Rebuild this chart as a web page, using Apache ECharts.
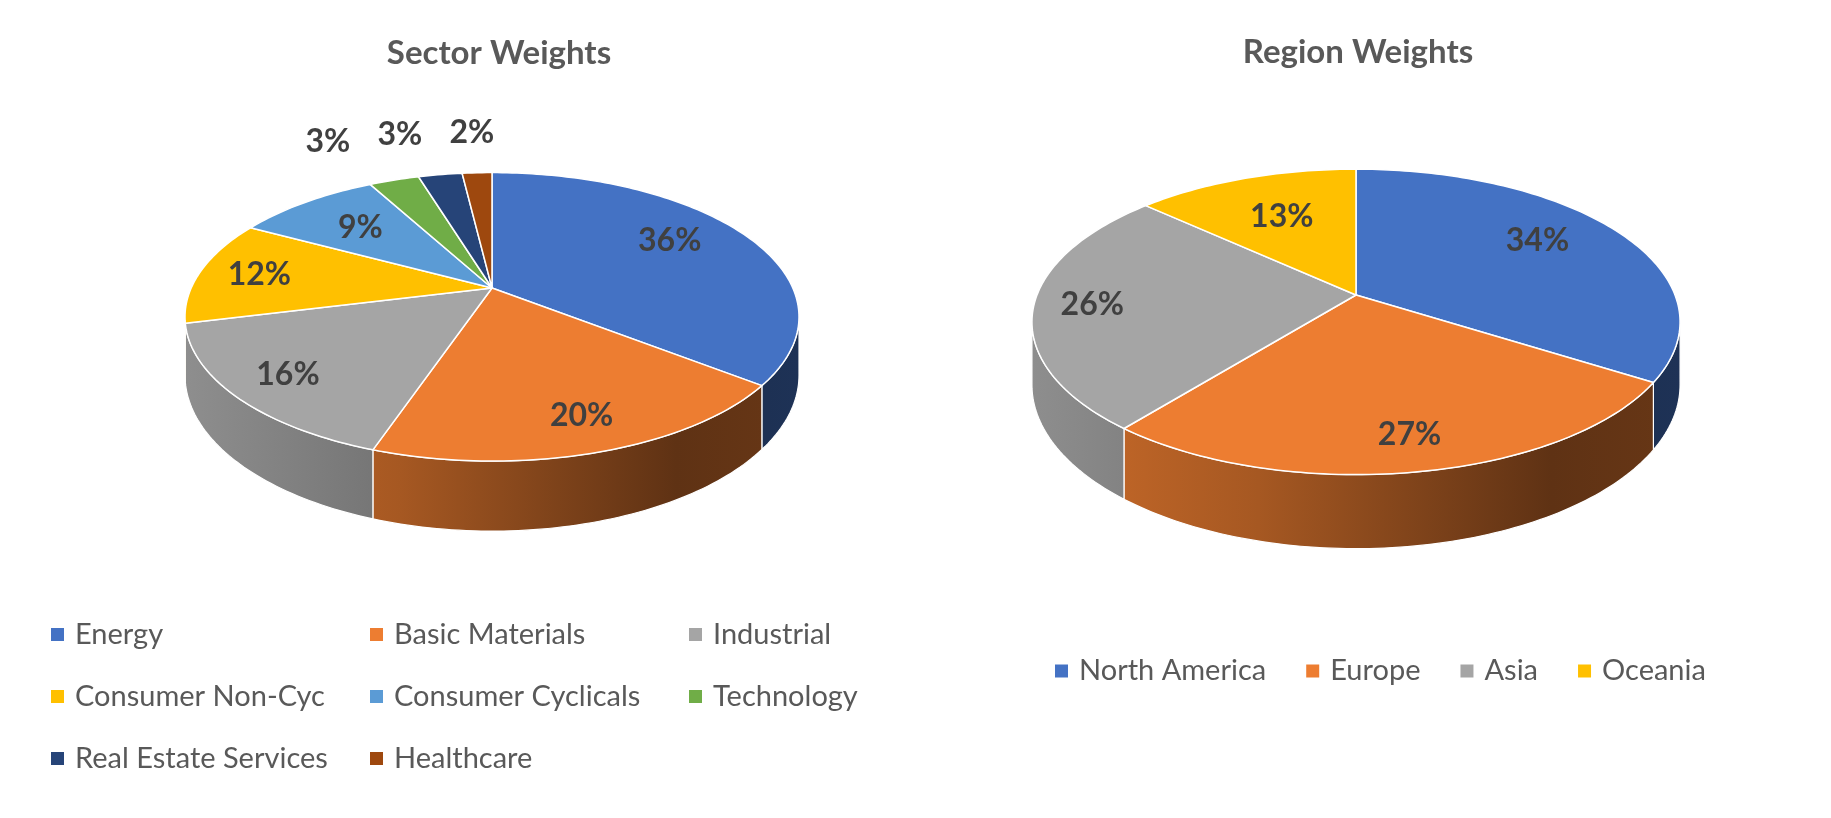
<!DOCTYPE html>
<html>
<head>
<meta charset="utf-8">
<title>Sector and Region Weights</title>
<script src="https://cdn.jsdelivr.net/npm/echarts@6/dist/echarts.min.js"></script>
<style>
	html, body { margin: 0; padding: 0; background: #fff; }
	#chart { width: 1831px; height: 818px; }
</style>
</head>
<body>
<div id="chart"></div>
<script>
// data (percent of portfolio)
var sectorNames = ['Energy', 'Basic Materials', 'Industrial', 'Consumer Non-Cyc', 'Consumer Cyclicals', 'Technology', 'Real Estate Services', 'Healthcare'];
var sectorValues = [35.6, 19.6, 15.9, 11.8, 9.2, 3.2, 2.8, 1.9];
var regionNames = ['North America', 'Europe', 'Asia', 'Oceania'];
var regionValues = [34.0, 26.8, 26.0, 13.2];

// office palette
var sectorColors = ['#4472C4', '#ED7D31', '#A5A5A5', '#FFC000', '#5B9BD5', '#70AD47', '#264478', '#9E480E'];
var regionColors = ['#4472C4', '#ED7D31', '#A5A5A5', '#FFC000'];

// 3D look of each pie: centre (apex), half width, half height, perspective, wall height
var sectorPie = { cx: 492, cy: 288, a: 300.8, b: 138.5, k: 0.2, depth: 56, outsideBelow: 5 };
var regionPie = { cx: 1356, cy: 295, a: 319, b: 148, k: 0.176, depth: 61, outsideBelow: 5 };

var FONT = 'Lato, "Open Sans", sans-serif';
var TWO_PI = Math.PI * 2;

/**
 * project a point of the disc (f = radius fraction, phi = angle clockwise from the far side)
 */
var _proj = function(pie, f, phi, drop) {
	var u = f * Math.sin(phi);
	var v = -f * Math.cos(phi);
	var w = 1 - pie.k * v;
	return [pie.cx + pie.a * u / w, pie.cy + (pie.b * v + (drop || 0)) / w];
};

var _arc = function(pie, from, to, drop) {
	var pts = [];
	var n = Math.max(2, Math.ceil(Math.abs(to - from) / 0.02));
	for(var i = 0; i <= n; i++) {
		pts.push(_proj(pie, 1, from + (to - from) * i / n, drop));
	}
	return pts;
};

var _shade = function(hex, f) {
	var r = parseInt(hex.substr(1, 2), 16), g = parseInt(hex.substr(3, 2), 16), b = parseInt(hex.substr(5, 2), 16);
	return 'rgb(' + Math.round(r * f) + ',' + Math.round(g * f) + ',' + Math.round(b * f) + ')';
};

/**
 * angles and label spots of every slice
 */
var _layout = function(values, pie) {
	var total = 0;
	for(var i = 0; i < values.length; i++) total += values[i];
	var acc = 0;
	var slices = [];
	for(var i = 0; i < values.length; i++) {
		var start = acc / total * TWO_PI;
		acc += values[i];
		var end = acc / total * TWO_PI;
		var mid = (start + end) / 2;
		var pct = values[i] / total * 100;
		var s = { start: start, end: end, mid: mid, text: Math.round(pct) + '%', outside: pct < pie.outsideBelow };
		if(s.outside) {
			s.pos = _proj(pie, 1.45, mid, 0);
		} else {
			var f = 0.82 - 0.2 * Math.max(0, Math.cos(mid));
			s.pos = _proj(pie, f, mid - 0.08 * Math.max(0, Math.sin(mid)), 0);
		}
		slices.push(s);
	}
	// keep outside labels apart, walking from the last slice backwards
	var lastX = null;
	for(var i = slices.length - 1; i >= 0; i--) {
		if(!slices[i].outside) continue;
		if(lastX !== null && slices[i].pos[0] > lastX - 72) slices[i].pos[0] = lastX - 72;
		lastX = slices[i].pos[0];
	}
	return slices;
};

var _render = function(pie, slice, color) {
	return function(params, api) {
		var children = [];
		var vis0 = Math.acos(-pie.k), vis1 = TWO_PI - vis0;
		var a0 = Math.max(slice.start, vis0), a1 = Math.min(slice.end, vis1);
		var left = pie.cx - pie.a * 1.02, right = pie.cx + pie.a * 1.02;
		if(a1 > a0) {
			var wall = _arc(pie, a0, a1, 0).concat(_arc(pie, a1, a0, pie.depth));
			children.push({
				type: 'polygon',
				z2: 1,
				shape: { points: wall },
				style: {
					fill: new echarts.graphic.LinearGradient(left, 0, right, 0, [
						{ offset: 0, color: _shade(color, 0.86) },
						{ offset: 0.35, color: _shade(color, 0.7) },
						{ offset: 0.8, color: _shade(color, 0.4) },
						{ offset: 1, color: _shade(color, 0.44) }
					], true),
					stroke: '#fff',
					lineWidth: 1.2
				}
			});
		}
		children.push({
			type: 'polygon',
			z2: 5,
			shape: { points: [_proj(pie, 0, 0, 0)].concat(_arc(pie, slice.start, slice.end, 0)) },
			style: { fill: color, stroke: '#fff', lineWidth: 1.5, lineJoin: 'round' }
		});
		children.push({
			type: 'text',
			z2: 10,
			x: slice.pos[0],
			y: slice.pos[1],
			style: {
				text: slice.text,
				fill: '#404040',
				font: 'bold 32px ' + FONT,
				align: 'center',
				verticalAlign: 'middle'
			}
		});
		return { type: 'group', children: children };
	};
};

var _series = function(names, values, colors, pie) {
	var slices = _layout(values, pie);
	var list = [];
	for(var i = 0; i < names.length; i++) {
		list.push({
			type: 'custom',
			name: names[i],
			coordinateSystem: 'none',
			silent: true,
			itemStyle: { color: colors[i] },
			data: [{ name: names[i], value: values[i] }],
			renderItem: _render(pie, slices[i], colors[i])
		});
	}
	return list;
};

var option = {
	backgroundColor: '#fff',
	animation: false,
	title: [{
		text: 'Sector Weights',
		left: 499,
		top: 37,
		textAlign: 'center',
		padding: 0,
		textStyle: { fontFamily: FONT, fontSize: 33, fontWeight: 'bold', color: '#595959' }
	}, {
		text: 'Region Weights',
		left: 1358,
		top: 36,
		textAlign: 'center',
		padding: 0,
		textStyle: { fontFamily: FONT, fontSize: 33, fontWeight: 'bold', color: '#595959' }
	}],
	legend: [{
		data: sectorNames,
		left: 51,
		top: 610,
		width: 980,
		padding: 0,
		icon: 'rect',
		itemWidth: 13,
		itemHeight: 13,
		itemGap: 13,
		selectedMode: false,
		textStyle: { fontFamily: FONT, fontSize: 29, color: '#595959', width: 282, lineHeight: 49, padding: [0, 0, 0, 6] }
	}, {
		data: regionNames,
		left: 1055,
		top: 653,
		padding: 0,
		icon: 'rect',
		itemWidth: 13,
		itemHeight: 13,
		itemGap: 40,
		selectedMode: false,
		textStyle: { fontFamily: FONT, fontSize: 29, color: '#595959', lineHeight: 36, padding: [0, 0, 0, 6] }
	}],
	series: _series(sectorNames, sectorValues, sectorColors, sectorPie)
		.concat(_series(regionNames, regionValues, regionColors, regionPie))
};

var chart = echarts.init(document.getElementById('chart'), null, { renderer: 'canvas' });
chart.setOption(option);
</script>
</body>
</html>
